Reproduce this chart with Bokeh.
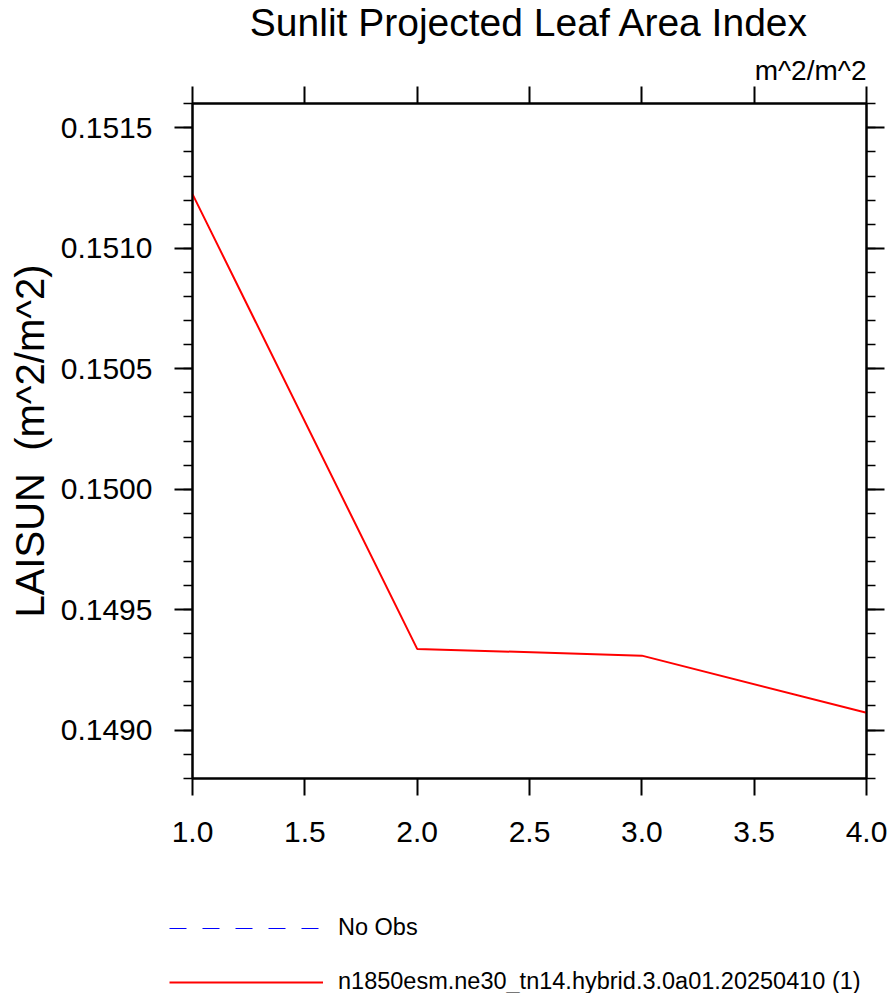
from bokeh.plotting import figure
from bokeh.models import (Range1d, LinearAxis, FixedTicker, PrintfTickFormatter,
                          Title, Legend, LegendItem, Label)
from bokeh.embed import file_html
from bokeh.resources import INLINE

# ---- data ----
years = [1, 2, 3, 4]
laisun = [0.151225, 0.149337, 0.149309, 0.149072]
obs_x = [float("nan")]   # no observations available
obs_y = [float("nan")]

x_major = [1.0, 1.5, 2.0, 2.5, 3.0, 3.5, 4.0]
y_major = [0.1490, 0.1495, 0.1500, 0.1505, 0.1510, 0.1515]
y_minor = [0.1488, 0.1489, 0.1490, 0.1491, 0.1492, 0.1493, 0.1494, 0.1495,
           0.1496, 0.1497, 0.1498, 0.1499, 0.1500, 0.1501, 0.1502, 0.1503,
           0.1504, 0.1505, 0.1506, 0.1507, 0.1508, 0.1509, 0.1510, 0.1511,
           0.1512, 0.1513, 0.1514, 0.1515, 0.1516]

title_text = "Sunlit Projected Leaf Area Index"
units_text = "m^2/m^2"
ylabel_text = "LAISUN \u00a0(m^2/m^2)"
obs_label = "No Obs"
case_label = "n1850esm.ne30_tn14.hybrid.3.0a01.20250410 (1)"

FONT = "Liberation Sans"
OBS_STYLE = dict(line_color="#0000ff", line_width=1, line_dash="17 16")
CASE_STYLE = dict(line_color="#ff0000", line_width=2)


def blank_fig(height):
    f = figure(width=888, height=height, output_backend="svg",
               toolbar_location=None, title=None,
               x_range=Range1d(0, 1), y_range=Range1d(0, 1),
               min_border_left=0, min_border_right=0, min_border_top=0,
               min_border_bottom=0, x_axis_location=None,
               y_axis_location=None)
    f.xgrid.visible = False
    f.ygrid.visible = False
    f.outline_line_color = None
    f.background_fill_color = "white"
    f.border_fill_color = "white"
    return f


# ---- title strip ----
tf = blank_fig(46)
tf.add_layout(Label(x=529, y=24, x_units="screen", y_units="screen",
                    text=title_text, text_align="center",
                    text_baseline="alphabetic", text_font=FONT,
                    text_font_size="39px", text_color="black"))

# ---- main plot ----
p = figure(width=888, height=812, output_backend="svg", toolbar_location=None,
           title=None,
           x_range=Range1d(1, 4), y_range=Range1d(0.148799, 0.151601),
           min_border_left=192, min_border_right=22, min_border_top=57,
           min_border_bottom=80)

p.xgrid.visible = False
p.ygrid.visible = False
p.outline_line_color = "black"
p.outline_line_width = 2
p.background_fill_color = "white"
p.border_fill_color = "white"

xt = FixedTicker(ticks=x_major, minor_ticks=[])
yt = FixedTicker(ticks=y_major, minor_ticks=y_minor)


def style_axis(ax, labels=True):
    ax.axis_line_color = "black"
    ax.axis_line_width = 2
    ax.major_tick_line_color = "black"
    ax.major_tick_line_width = 2
    ax.minor_tick_line_color = "black"
    ax.minor_tick_line_width = 1.5
    ax.major_tick_in = 0
    ax.minor_tick_in = 0
    if labels:
        ax.major_label_text_font = FONT
        ax.major_label_text_font_size = "30px"
        ax.major_label_text_color = "black"
    else:
        ax.major_label_text_font_size = "0px"
        ax.major_label_text_color = None
        ax.major_label_standoff = 0


bx = p.below[0]
bx.ticker = xt
bx.formatter = PrintfTickFormatter(format="%.1f")
style_axis(bx)
bx.major_tick_out = 17
bx.minor_tick_out = 0
bx.major_label_standoff = 26

ly = p.left[0]
ly.ticker = yt
ly.formatter = PrintfTickFormatter(format="%.4f")
style_axis(ly)
ly.major_tick_out = 18
ly.minor_tick_out = 9
ly.major_label_standoff = 22
ly.axis_label = ylabel_text
ly.axis_label_text_font = FONT
ly.axis_label_text_font_size = "40px"
ly.axis_label_text_font_style = "normal"
ly.axis_label_text_color = "black"
ly.axis_label_standoff = 6

tx = LinearAxis(ticker=xt, formatter=PrintfTickFormatter(format="%.1f"))
style_axis(tx, labels=False)
tx.major_tick_out = 17
tx.minor_tick_out = 0
p.add_layout(tx, "above")

ry = LinearAxis(ticker=yt, formatter=PrintfTickFormatter(format="%.4f"))
style_axis(ry, labels=False)
ry.major_tick_out = 18
ry.minor_tick_out = 9
p.add_layout(ry, "right")

p.add_layout(Title(text=units_text, align="right", text_font=FONT,
                   text_font_size="28px", text_font_style="normal",
                   text_color="black", standoff=2), "above")

p.line(years, laisun, **CASE_STYLE)

# ---- legend strip below the plot ----
lf = blank_fig(135)
l_obs = lf.line(obs_x, obs_y, **OBS_STYLE)
l_case = lf.line(obs_x, obs_y, **CASE_STYLE)

legend = Legend(items=[LegendItem(label=obs_label, renderers=[l_obs]),
                       LegendItem(label=case_label, renderers=[l_case])],
                location=(169, -2), orientation="vertical",
                glyph_width=154, glyph_height=20, label_height=20,
                label_standoff=15, spacing=27, padding=0, margin=0,
                border_line_color=None, background_fill_alpha=0,
                label_text_font=FONT, label_text_font_size="23.5px",
                label_text_color="black")
lf.add_layout(legend, "center")

open("out.html", "w").write(file_html([tf, p, lf], INLINE))
